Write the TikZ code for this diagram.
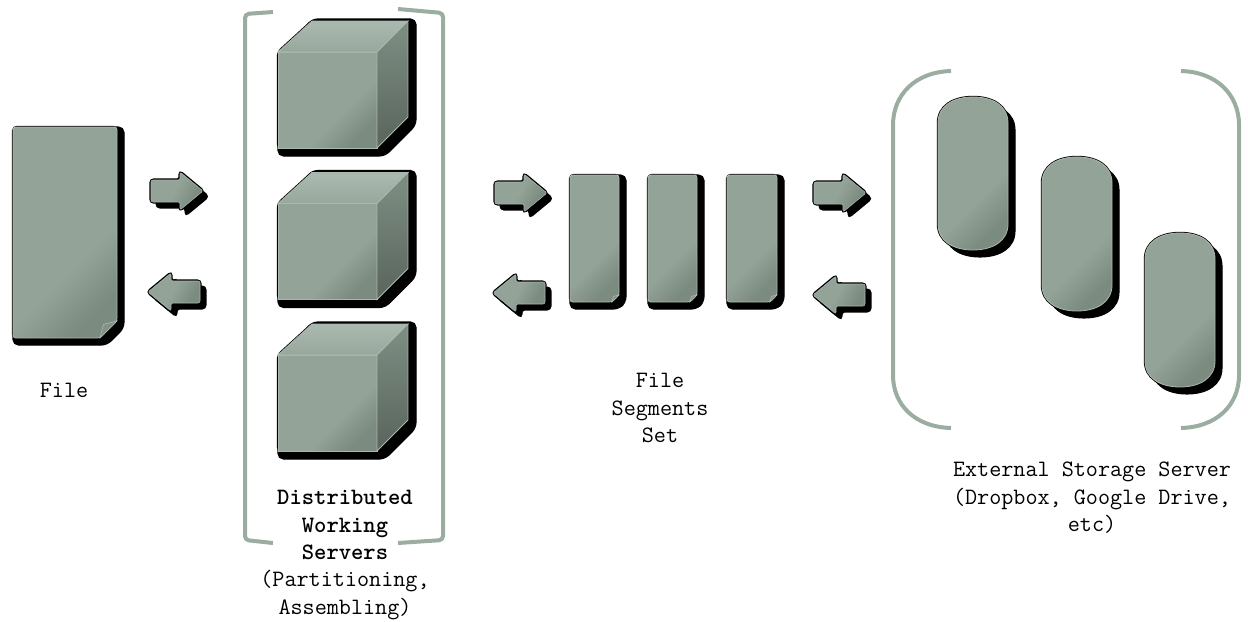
\documentclass[tikz,border=0pt]{standalone}
\usepackage{fontspec}
\definecolor{bodyA}{HTML}{94A398}
\definecolor{bodyB}{HTML}{7B8B80}
\definecolor{edgeL}{HTML}{A9B8AE}
\definecolor{bracket}{HTML}{9AADA0}
\pgfdeclarehorizontalshading{bodyshade}{100bp}{color(0bp)=(bodyA); color(60bp)=(bodyA); color(75bp)=(bodyB); color(100bp)=(bodyB)}
\pgfdeclarehorizontalshading{arrowshade}{100bp}{color(0bp)=(bodyA); color(48bp)=(bodyA); color(70bp)=(bodyB); color(100bp)=(bodyB)}
\pgfdeclareverticalshading{topshade}{100bp}{color(0bp)=(bodyA); color(30bp)=(bodyA!70!edgeL); color(70bp)=(edgeL); color(100bp)=(edgeL)}
\pgfdeclareverticalshading{sideshade}{100bp}{color(0bp)=(bodyB!75!black); color(30bp)=(bodyB!75!black); color(70bp)=(bodyB); color(100bp)=(bodyB)}
\tikzset{
  shadowfill/.style={fill=black,draw=black,line width=0.8pt,rounded corners=4pt},
  outline/.style={draw=black,line width=1.8pt,rounded corners=3pt},
  bodyfill/.style={shading=bodyshade,shading angle=-45,draw=edgeL,line width=0.6pt,rounded corners=2pt},
  brack/.style={draw=bracket,line width=3pt,line cap=butt,rounded corners=3pt},
  lab/.style={font=\ttfamily\fontsize{17.6}{20.7}\selectfont,align=center,text=black,inner sep=0pt},
}
% document with a folded corner: x0 y0 x1 y1 fold
\newcommand{\docshape}[5]{%
  \path[shadowfill] (#1+7,#2)--(#3+7,#2)--(#3+7,#4-#5+7)--(#3-#5+7,#4+7)--(#1,#4+7)--(#1,#2)--cycle;
  \path[outline] (#1,#2)--(#3,#2)--(#3,#4-#5)--(#3-#5,#4)--(#1,#4)--cycle;
  \path[bodyfill] (#1,#2)--(#3,#2)--(#3,#4-#5)--(#3-#5,#4)--(#1,#4)--cycle;
  \path[fill=bodyB!85!edgeL,draw=edgeL,line width=0.5pt] (#3-#5,#4)--(#3-0.8*#5,#4-0.8*#5)--(#3,#4-#5)--cycle;
}
% right (+1) / left (-1) arrow: tail x, direction, centre y
\newcommand{\blockarrow}[3]{%
  \def\arrowp{(#1,#3-11)--(#1+#2*29,#3-11)--(#1+#2*29,#3-19)--(#1+#2*52,#3)--(#1+#2*29,#3+19)--(#1+#2*29,#3+11)--(#1,#3+11)--cycle}%
  \begin{scope}[shift={(5.5,5.5)}]\path[shadowfill,line width=1.5pt,rounded corners=2.5pt] \arrowp;\end{scope}
  \path[outline,line width=2.4pt,rounded corners=2pt] \arrowp;
  \path[shading=arrowshade,shading angle=-30,draw=edgeL,line width=0.4pt,rounded corners=1.5pt] \arrowp;
}
\newcommand{\cubeshape}[1]{%
  \begin{scope}[shift={(0,#1)}]
    \path[shadowfill] (312,19)--(416,19)--(416,125)--(385,156)--(278,156)--(278,60)--cycle;
    \path[outline] (278,52)--(312,21)--(408,21)--(408,117)--(377,148)--(278,148)--cycle;
    \path[bodyfill,rounded corners=0pt] (278,52) rectangle (377,148);
    \path[shading=topshade,draw=edgeL,line width=0.6pt] (278,52)--(312,21)--(408,21)--(377,52)--cycle;
    \path[shading=sideshade,draw=edgeL,line width=0.6pt] (377,52)--(408,21)--(408,117)--(377,148)--cycle;
  \end{scope}
}
\newcommand{\diskshape}[4]{% x0 y0 x1 y1
  \def\diskp{(#1,#2+26) .. controls (#1,#2+9) and (#1+15,#2) .. (#1/2+#3/2,#2) .. controls (#3-15,#2) and (#3,#2+9) .. (#3,#2+26) -- (#3,#4-26) .. controls (#3,#4-9) and (#3-15,#4) .. (#1/2+#3/2,#4) .. controls (#1+15,#4) and (#1,#4-9) .. (#1,#4-26) -- cycle}%
  \begin{scope}[shift={(7,7)}]\path[fill=black,draw=black,line width=0.8pt] \diskp;\end{scope}
  \path[draw=black,line width=1.8pt] \diskp;
  \path[shading=bodyshade,shading angle=-45,draw=edgeL,line width=0.6pt] \diskp;
}
\begin{document}
\begin{tikzpicture}[x=0.75pt,y=-0.75pt]
\useasboundingbox (0,0) rectangle (1248,621);
% file
\docshape{13}{127}{117}{338}{17}
\blockarrow{151}{1}{191}
\blockarrow{200}{-1}{292}
% servers
\draw[brack] (273,12)--(245,14)--(245,540)--(273,543);
\draw[brack] (398,9)--(443,13)--(443,540)--(398,543);
\cubeshape{0}
\cubeshape{151.5}
\cubeshape{303}
% segments
\blockarrow{495}{1}{193}
\blockarrow{545}{-1}{293}
\docshape{570}{175}{619}{302}{7}
\docshape{648}{175}{697}{302}{7}
\docshape{727}{175}{777}{302}{7}
\blockarrow{814}{1}{193}
\blockarrow{865}{-1}{295}
% storage
\draw[draw=bracket,line width=3pt] (951,71) .. controls (915,72) and (893,95) .. (893,125) -- (893,375) .. controls (893,405) and (915,427) .. (951,428);
\draw[draw=bracket,line width=3pt] (1181,71) .. controls (1217,72) and (1239,95) .. (1239,125) -- (1239,375) .. controls (1239,405) and (1217,427) .. (1181,428);
\diskshape{938}{97}{1008}{250}
\diskshape{1042}{157}{1112}{311}
\diskshape{1145}{233}{1215}{387}
% labels
\node[lab] (filelabel) at (64,390) {File};
\node[lab] (dist) at (345,525) {\textbf{Distributed}\\\textbf{Working}\\\textbf{Servers}};
\node[lab] (part) at (345,595) {(Partitioning,\\Assembling)};
\node[lab] (seg) at (660,408) {File\\Segments\\Set};
\node[lab] (ext) at (1092,498) {External Storage Server\\(Dropbox, Google Drive,\\etc)};
\end{tikzpicture}
\end{document}
